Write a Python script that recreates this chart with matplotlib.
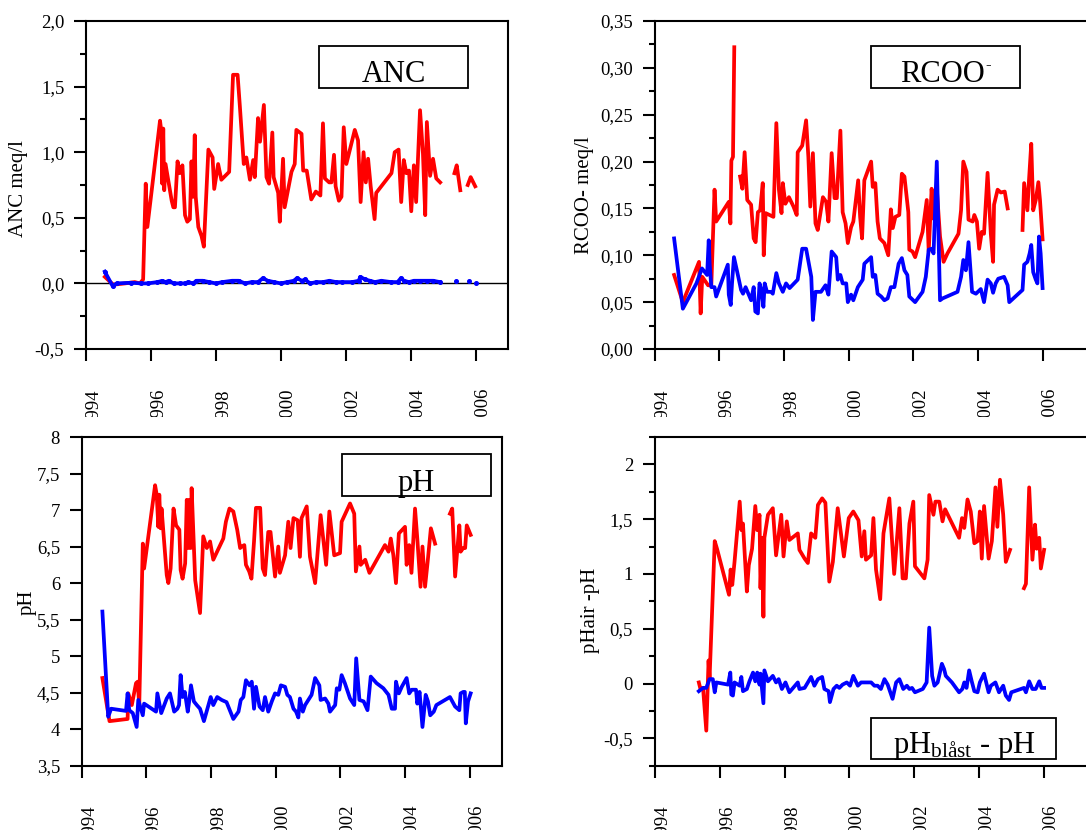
import numpy as np
import matplotlib
matplotlib.use('Agg')
import matplotlib.pyplot as plt
from matplotlib.ticker import MultipleLocator, FuncFormatter
from matplotlib.patches import Rectangle
from matplotlib.transforms import Bbox, TransformedBbox, blended_transform_factory, offset_copy

plt.rcParams['font.family'] = ['Liberation Serif', 'DejaVu Serif']
plt.rcParams['mathtext.fontset'] = 'custom'
plt.rcParams['mathtext.rm'] = 'Liberation Serif'
plt.rcParams['mathtext.it'] = 'Liberation Serif:italic'
plt.rcParams['mathtext.bf'] = 'Liberation Serif:bold'

nan = np.nan
RED = '#ff0000'
BLUE = '#0000ff'

# ---------------- data ----------------
years = [1994, 1996, 1998, 2000, 2002, 2004, 2006]

anc_red_t = [1994.58, 1994.84, 1995.20, 1995.50, 1995.66, 1995.76, 1995.84, 1995.89, 1996.28, 1996.33,
             1996.35, 1996.38, 1996.41, 1996.45, 1996.64, 1996.69, 1996.74, 1996.82, 1996.89, 1996.97,
             1997.05, 1997.12, 1997.20, 1997.25, 1997.30, 1997.35, 1997.38, 1997.46, 1997.56, 1997.63,
             1997.77, 1997.90, 1997.95, 1998.07, 1998.17, 1998.41, 1998.53, 1998.67, 1998.74, 1998.86,
             1998.94, 1999.05, 1999.15, 1999.20, 1999.30, 1999.36, 1999.48, 1999.56, 1999.64, 1999.74,
             1999.78, 1999.92, 1999.97, 2000.07, 2000.12, 2000.33, 2000.43, 2000.48, 2000.64, 2000.69,
             2000.80, 2000.94, 2001.08, 2001.22, 2001.30, 2001.36, 2001.49, 2001.56, 2001.64, 2001.69,
             2001.79, 2001.87, 2001.94, 2002.02, 2002.28, 2002.38, 2002.46, 2002.55, 2002.62, 2002.69,
             2002.77, 2002.89, 2002.94, 2003.41, 2003.51, 2003.63, 2003.71, 2003.79, 2003.87, 2003.95,
             2004.02, 2004.10, 2004.17, 2004.29, 2004.38, 2004.45, 2004.50, 2004.60, 2004.69, 2004.79,
             2004.91, 2005.10, 2005.35, 2005.42, 2005.53, 2005.65, 2005.76, 2005.85, 2005.99]
anc_red_v = [0.05, -0.01, 0.00, 0.01, 0.00, 0.03, 0.76, 0.43, 1.24, 1.14,
             0.76, 1.18, 0.71, 0.91, 0.63, 0.58, 0.58, 0.93, 0.84, 0.90,
             0.52, 0.47, 0.49, 0.93, 0.66, 1.13, 0.66, 0.43, 0.36, 0.28,
             1.02, 0.96, 0.72, 0.91, 0.79, 0.85, 1.59, 1.59, 1.35, 0.91,
             0.96, 0.79, 0.94, 0.81, 1.26, 1.08, 1.36, 0.81, 0.76, 1.15,
             0.81, 0.69, 0.47, 0.95, 0.58, 0.85, 0.91, 1.17, 1.14, 0.86,
             0.86, 0.64, 0.70, 0.67, 1.22, 0.80, 0.77, 0.77, 0.98, 0.74,
             0.63, 0.66, 1.19, 0.91, 1.17, 1.09, 0.62, 1.00, 0.77, 0.95,
             0.74, 0.49, 0.69, 0.84, 1.00, 1.02, 0.62, 0.94, 0.84, 0.86,
             0.55, 0.90, 0.62, 1.32, 0.99, 0.52, 1.23, 0.82, 0.95, 0.80,
             0.77, nan, 0.84, 0.90, 0.71, nan, 0.75, 0.81, 0.74]

anc_blue_t = [1994.58, 1994.82, 1994.95, 1995.40, 1995.70, 1995.90, 1996.20, 1996.35, 1996.45, 1996.55,
              1996.70, 1996.90, 1997.05, 1997.15, 1997.30, 1997.40, 1997.60, 1997.80, 1998.00, 1998.20,
              1998.50, 1998.70, 1998.90, 1999.10, 1999.30, 1999.45, 1999.60, 1999.80, 2000.00, 2000.20,
              2000.40, 2000.50, 2000.65, 2000.75, 2000.90, 2001.10, 2001.30, 2001.50, 2001.70, 2001.90,
              2002.20, 2002.40, 2002.45, 2002.60, 2002.75, 2002.90, 2003.10, 2003.40, 2003.60, 2003.70,
              2003.80, 2003.95, 2004.10, 2004.30, 2004.50, 2004.70, 2004.90, 2005.10, 2005.40, 2005.60,
              2005.80, 2005.90, 2006.00]
anc_blue_v = [0.09, -0.02, 0.00, 0.005, 0.00, 0.00, 0.01, 0.02, 0.01, 0.02,
              0.00, 0.00, 0.00, 0.01, 0.00, 0.02, 0.02, 0.01, 0.00, 0.01,
              0.02, 0.02, 0.00, 0.01, 0.01, 0.04, 0.02, 0.01, 0.00, 0.01,
              0.02, 0.04, 0.02, 0.03, 0.00, 0.01, 0.01, 0.02, 0.01, 0.01,
              0.01, 0.02, 0.05, 0.03, 0.02, 0.01, 0.02, 0.01, 0.01, 0.04,
              0.02, 0.01, 0.02, 0.02, 0.02, 0.02, 0.01, nan, 0.02, nan,
              0.02, nan, 0.005]

rcoo_red_t = [1994.60, 1994.87, 1995.37, 1995.42, 1995.47, 1995.65, 1995.75, 1995.85, 1995.90, 1996.29,
              1996.34, 1996.37, 1996.42, 1996.46, 1996.55, 1996.64, 1996.71, 1996.78, 1996.86, 1996.98,
              1997.06, 1997.12, 1997.19, 1997.26, 1997.34, 1997.37, 1997.43, 1997.55, 1997.67, 1997.76,
              1997.84, 1997.92, 1997.96, 1998.04, 1998.15, 1998.29, 1998.39, 1998.42, 1998.56, 1998.68,
              1998.75, 1998.81, 1998.89, 1998.97, 1999.04, 1999.20, 1999.30, 1999.37, 1999.47, 1999.56,
              1999.63, 1999.74, 1999.81, 1999.90, 1999.97, 2000.07, 2000.14, 2000.29, 2000.35, 2000.41,
              2000.48, 2000.69, 2000.74, 2000.82, 2000.89, 2000.96, 2001.10, 2001.22, 2001.30, 2001.36,
              2001.44, 2001.56, 2001.64, 2001.72, 2001.84, 2001.87, 2001.97, 2002.05, 2002.28, 2002.41,
              2002.47, 2002.56, 2002.62, 2002.72, 2002.82, 2002.93, 2003.05, 2003.39, 2003.47, 2003.54,
              2003.64, 2003.70, 2003.83, 2003.88, 2003.96, 2004.03, 2004.11, 2004.18, 2004.29, 2004.39,
              2004.46, 2004.49, 2004.60, 2004.70, 2004.82, 2004.91, 2005.10, 2005.37, 2005.42, 2005.52,
              2005.57, 2005.64, 2005.70, 2005.78, 2005.86, 2005.91, 2005.99]
rcoo_red_v = [0.079, 0.050, 0.093, 0.038, 0.077, 0.068, 0.068, 0.170, 0.136, 0.157,
              0.134, 0.201, 0.205, 0.322, nan, 0.184, 0.171, 0.210, 0.159, 0.154,
              0.118, 0.114, 0.146, 0.148, 0.177, 0.100, 0.145, 0.143, 0.141, 0.241,
              0.170, 0.145, 0.177, 0.155, 0.162, 0.152, 0.143, 0.210, 0.217, 0.244,
              0.205, 0.152, 0.209, 0.134, 0.127, 0.162, 0.157, 0.136, 0.209, 0.161,
              0.161, 0.233, 0.146, 0.134, 0.113, 0.130, 0.136, 0.180, 0.141, 0.118,
              0.180, 0.200, 0.173, 0.177, 0.136, 0.118, 0.113, 0.100, 0.149, 0.129,
              0.141, 0.143, 0.187, 0.184, 0.146, 0.106, 0.104, 0.098, 0.125, 0.159,
              0.104, 0.171, 0.139, 0.171, 0.120, 0.093, 0.102, 0.123, 0.148, 0.200,
              0.189, 0.138, 0.136, 0.143, 0.136, 0.107, 0.125, 0.123, 0.188, 0.123,
              0.093, 0.154, 0.170, 0.167, 0.168, 0.150, nan, 0.127, 0.177, 0.148,
              0.180, 0.219, 0.148, 0.159, 0.178, 0.159, 0.117]

rcoo_blue_t = [1994.60, 1994.87, 1995.29, 1995.46, 1995.62, 1995.67, 1995.70, 1995.75, 1995.85, 1995.90,
               1996.26, 1996.29, 1996.35, 1996.39, 1996.45, 1996.54, 1996.67, 1996.73, 1996.81, 1996.98,
               1997.06, 1997.11, 1997.19, 1997.24, 1997.31, 1997.36, 1997.40, 1997.47, 1997.60, 1997.65,
               1997.76, 1997.84, 1997.96, 1998.06, 1998.17, 1998.42, 1998.56, 1998.68, 1998.84, 1998.89,
               1998.97, 1999.14, 1999.28, 1999.37, 1999.47, 1999.61, 1999.66, 1999.74, 1999.81, 1999.92,
               1999.97, 2000.07, 2000.14, 2000.28, 2000.43, 2000.48, 2000.69, 2000.74, 2000.82, 2000.89,
               2001.00, 2001.10, 2001.20, 2001.30, 2001.41, 2001.54, 2001.64, 2001.72, 2001.81, 2001.87,
               2002.05, 2002.28, 2002.38, 2002.47, 2002.56, 2002.62, 2002.72, 2002.82, 2002.90, 2003.36,
               2003.47, 2003.54, 2003.62, 2003.70, 2003.81, 2003.93, 2004.08, 2004.18, 2004.29, 2004.39,
               2004.46, 2004.54, 2004.62, 2004.80, 2004.91, 2004.96, 2005.37, 2005.42, 2005.52, 2005.59,
               2005.64, 2005.70, 2005.78, 2005.83, 2005.88, 2005.93, 2005.99]
rcoo_blue_v = [0.118, 0.043, 0.070, 0.086, 0.079, 0.116, 0.090, 0.066, 0.066, 0.056,
               0.090, 0.058, 0.047, 0.070, 0.098, 0.084, 0.063, 0.059, 0.066, 0.052,
               0.066, 0.040, 0.038, 0.070, 0.061, 0.045, 0.070, 0.061, 0.061, 0.059,
               0.081, 0.070, 0.061, 0.070, 0.065, 0.074, 0.107, 0.107, 0.077, 0.031,
               0.061, 0.061, 0.068, 0.058, 0.104, 0.098, 0.074, 0.079, 0.070, 0.070,
               0.050, 0.058, 0.052, 0.066, 0.074, 0.091, 0.098, 0.077, 0.079, 0.059,
               0.056, 0.052, 0.054, 0.066, 0.066, 0.091, 0.097, 0.084, 0.079, 0.056,
               0.050, 0.061, 0.077, 0.106, 0.107, 0.102, 0.200, 0.052, 0.054, 0.061,
               0.077, 0.095, 0.084, 0.114, 0.061, 0.059, 0.064, 0.050, 0.074, 0.070,
               0.060, 0.070, 0.075, 0.077, 0.068, 0.050, 0.063, 0.090, 0.093, 0.102,
               0.111, 0.082, 0.074, 0.070, 0.120, 0.102, 0.065]

ph_red_t = [1994.64, 1994.86, 1995.42, 1995.44, 1995.55, 1995.68, 1995.73, 1995.78, 1995.89, 1995.93,
            1996.27, 1996.32, 1996.37, 1996.40, 1996.44, 1996.47, 1996.63, 1996.68, 1996.75, 1996.84,
            1996.92, 1997.02, 1997.06, 1997.12, 1997.20, 1997.25, 1997.30, 1997.33, 1997.37, 1997.40,
            1997.51, 1997.66, 1997.76, 1997.87, 1997.97, 1998.07, 1998.38, 1998.46, 1998.57, 1998.69,
            1998.81, 1998.90, 1998.95, 1999.03, 1999.08, 1999.18, 1999.25, 1999.33, 1999.39, 1999.52,
            1999.60, 1999.67, 1999.77, 1999.84, 1999.98, 2000.08, 2000.13, 2000.29, 2000.39, 2000.46,
            2000.55, 2000.68, 2000.75, 2000.80, 2000.96, 2001.06, 2001.22, 2001.39, 2001.56, 2001.66,
            2001.81, 2001.99, 2002.04, 2002.30, 2002.43, 2002.48, 2002.59, 2002.63, 2002.77, 2002.90,
            2003.38, 2003.49, 2003.56, 2003.64, 2003.72, 2003.81, 2004.00, 2004.05, 2004.13, 2004.20,
            2004.31, 2004.38, 2004.48, 2004.54, 2004.62, 2004.70, 2004.80, 2004.93, 2005.10, 2005.39,
            2005.46, 2005.55, 2005.68, 2005.72, 2005.80, 2005.86, 2005.91, 2006.03]
ph_red_v = [4.70, 4.11, 4.14, 4.49, 4.33, 4.63, 4.65, 4.33, 6.54, 6.20,
            7.34, 7.21, 6.77, 7.21, 6.75, 7.02, 6.11, 6.00, 6.20, 7.02,
            6.79, 6.73, 6.18, 6.06, 6.27, 7.14, 6.48, 7.14, 6.48, 7.30,
            6.04, 5.59, 6.64, 6.48, 6.57, 6.32, 6.61, 6.84, 7.02, 6.98,
            6.73, 6.48, 6.50, 6.52, 6.25, 6.16, 6.06, 6.57, 7.03, 7.03,
            6.20, 6.11, 6.70, 6.70, 6.09, 6.50, 6.14, 6.38, 6.84, 6.48,
            6.89, 6.86, 6.36, 6.89, 7.05, 6.36, 6.00, 6.93, 6.25, 6.98,
            6.38, 6.41, 6.84, 7.09, 6.95, 6.16, 6.50, 6.25, 6.32, 6.14,
            6.52, 6.43, 6.61, 6.38, 6.00, 6.68, 6.77, 6.25, 6.52, 6.14,
            7.02, 6.61, 5.95, 6.50, 5.95, 6.29, 6.75, 6.54, nan, 6.95,
            7.02, 6.09, 6.79, 6.43, 6.48, 6.48, 6.79, 6.66]

ph_blue_t = [1994.64, 1994.82, 1994.91, 1995.37, 1995.42, 1995.47, 1995.58, 1995.70, 1995.75, 1995.89,
             1995.93, 1996.30, 1996.34, 1996.46, 1996.63, 1996.73, 1996.86, 1996.96, 1997.01, 1997.06,
             1997.12, 1997.19, 1997.28, 1997.33, 1997.38, 1997.47, 1997.56, 1997.66, 1997.78, 1997.99,
             1998.07, 1998.19, 1998.33, 1998.48, 1998.69, 1998.85, 1998.92, 1999.00, 1999.08, 1999.19,
             1999.26, 1999.33, 1999.39, 1999.50, 1999.60, 1999.67, 1999.77, 1999.88, 1999.98, 2000.08,
             2000.16, 2000.29, 2000.36, 2000.44, 2000.55, 2000.63, 2000.70, 2000.75, 2000.84, 2000.91,
             2001.11, 2001.22, 2001.35, 2001.39, 2001.53, 2001.63, 2001.68, 2001.84, 2001.89, 2001.97,
             2002.04, 2002.14, 2002.30, 2002.43, 2002.49, 2002.59, 2002.72, 2002.84, 2002.94, 2003.12,
             2003.33, 2003.49, 2003.59, 2003.69, 2003.72, 2003.81, 2003.90, 2004.05, 2004.13, 2004.21,
             2004.34, 2004.38, 2004.45, 2004.54, 2004.64, 2004.71, 2004.78, 2004.89, 2004.97, 2005.39,
             2005.55, 2005.68, 2005.72, 2005.80, 2005.85, 2005.88, 2005.95, 2006.03]
ph_blue_v = [5.61, 4.17, 4.28, 4.25, 4.49, 4.26, 4.22, 4.03, 4.40, 4.19,
             4.35, 4.24, 4.49, 4.22, 4.42, 4.49, 4.24, 4.28, 4.33, 4.74,
             4.44, 4.51, 4.24, 4.40, 4.60, 4.38, 4.33, 4.28, 4.11, 4.44,
             4.33, 4.44, 4.40, 4.37, 4.14, 4.24, 4.40, 4.44, 4.67, 4.60,
             4.65, 4.28, 4.58, 4.31, 4.26, 4.44, 4.24, 4.38, 4.49, 4.47,
             4.60, 4.58, 4.47, 4.44, 4.28, 4.24, 4.16, 4.42, 4.24, 4.33,
             4.47, 4.70, 4.60, 4.40, 4.42, 4.35, 4.24, 4.33, 4.56, 4.54,
             4.74, 4.63, 4.42, 4.33, 4.97, 4.40, 4.38, 4.26, 4.72, 4.63,
             4.56, 4.47, 4.28, 4.28, 4.65, 4.49, 4.58, 4.70, 4.49, 4.54,
             4.54, 4.35, 4.51, 4.03, 4.47, 4.38, 4.19, 4.24, 4.33, 4.44,
             4.31, 4.26, 4.49, 4.51, 4.51, 4.08, 4.38, 4.49]

dph_red_t = [1995.36, 1995.41, 1995.49, 1995.59, 1995.66, 1995.69, 1995.85, 1995.92, 1996.29, 1996.34,
             1996.39, 1996.46, 1996.62, 1996.67, 1996.72, 1996.84, 1996.90, 1997.00, 1997.10, 1997.16,
             1997.23, 1997.26, 1997.31, 1997.35, 1997.38, 1997.49, 1997.64, 1997.74, 1997.90, 1997.97,
             1998.07, 1998.15, 1998.41, 1998.46, 1998.62, 1998.72, 1998.82, 1998.95, 1999.03, 1999.16,
             1999.26, 1999.38, 1999.49, 1999.64, 1999.83, 1999.98, 2000.12, 2000.28, 2000.38, 2000.46,
             2000.51, 2000.67, 2000.74, 2000.82, 2000.95, 2001.05, 2001.23, 2001.38, 2001.54, 2001.64,
             2001.74, 2001.85, 2001.97, 2002.02, 2002.31, 2002.41, 2002.46, 2002.59, 2002.65, 2002.77,
             2002.87, 2002.95, 2003.38, 2003.47, 2003.54, 2003.64, 2003.74, 2003.85, 2003.95, 2004.02,
             2004.08, 2004.15, 2004.29, 2004.39, 2004.50, 2004.56, 2004.64, 2004.74, 2004.82, 2004.95,
             2005.15, 2005.38, 2005.44, 2005.54, 2005.64, 2005.72, 2005.77, 2005.85, 2005.90, 2006.00]
dph_red_v = [0.01, -0.05, -0.04, -0.43, 0.21, 0.04, 1.30, 1.23, 0.81, 1.04,
             0.90, 1.11, 1.66, 1.40, 1.46, 0.84, 1.08, 1.23, 1.62, 1.40,
             1.54, 0.87, 1.33, 0.61, 1.33, 1.54, 1.60, 1.17, 1.54, 1.16,
             1.48, 1.31, 1.37, 1.22, 1.14, 1.10, 1.37, 1.33, 1.63, 1.69,
             1.65, 0.93, 1.11, 1.60, 1.16, 1.51, 1.57, 1.49, 1.16, 1.39,
             1.13, 1.17, 1.51, 1.04, 0.77, 1.37, 1.69, 1.00, 1.60, 0.96,
             0.96, 1.46, 1.66, 1.07, 0.96, 1.13, 1.72, 1.54, 1.66, 1.66,
             1.48, 1.59, 1.33, 1.51, 1.42, 1.68, 1.57, 1.28, 1.30, 1.57,
             1.14, 1.62, 1.14, 1.30, 1.79, 1.43, 1.86, 1.54, 1.11, 1.22,
             nan, 0.87, 0.91, 1.79, 1.13, 1.45, 1.23, 1.33, 1.05, 1.22]

dph_blue_t = [1995.36, 1995.49, 1995.59, 1995.69, 1995.79, 1995.85, 1995.90, 1996.26, 1996.33, 1996.36,
              1996.41, 1996.46, 1996.62, 1996.67, 1996.72, 1996.84, 1996.92, 1997.03, 1997.10, 1997.16,
              1997.23, 1997.26, 1997.35, 1997.38, 1997.49, 1997.64, 1997.74, 1997.82, 1997.92, 1998.03,
              1998.15, 1998.41, 1998.46, 1998.62, 1998.82, 1998.92, 1999.03, 1999.16, 1999.23, 1999.36,
              1999.40, 1999.51, 1999.61, 1999.69, 1999.79, 1999.92, 2000.02, 2000.12, 2000.26, 2000.36,
              2000.51, 2000.67, 2000.77, 2000.87, 2000.97, 2001.08, 2001.18, 2001.33, 2001.44, 2001.54,
              2001.66, 2001.77, 2001.85, 2001.93, 2002.02, 2002.26, 2002.38, 2002.46, 2002.55, 2002.62,
              2002.72, 2002.85, 2002.92, 2002.97, 2003.16, 2003.38, 2003.48, 2003.54, 2003.61, 2003.69,
              2003.77, 2003.85, 2003.95, 2004.02, 2004.15, 2004.29, 2004.36, 2004.50, 2004.61, 2004.74,
              2004.82, 2004.92, 2004.99, 2005.38, 2005.44, 2005.54, 2005.64, 2005.74, 2005.85, 2005.92,
              2006.00]
dph_blue_v = [-0.07, -0.04, -0.04, 0.04, 0.04, -0.08, 0.01, -0.01, 0.10, -0.10,
              -0.11, 0.01, -0.02, 0.06, -0.07, -0.05, 0.02, 0.10, 0.02, 0.10,
              -0.01, 0.09, -0.18, 0.12, 0.02, 0.07, 0.01, 0.04, -0.05, 0.01,
              -0.08, 0.01, -0.05, -0.04, 0.06, -0.02, 0.04, 0.06, -0.05, -0.07,
              -0.17, -0.05, -0.02, -0.04, -0.01, 0.01, -0.02, 0.07, -0.02, 0.01,
              0.01, 0.01, -0.02, -0.02, -0.05, 0.04, -0.01, -0.14, 0.01, 0.04,
              -0.05, -0.02, -0.05, -0.04, -0.08, -0.05, 0.01, 0.51, 0.07, -0.02,
              0.01, 0.18, 0.13, 0.07, 0.01, -0.08, -0.05, 0.01, -0.04, 0.12,
              0.02, -0.07, -0.08, 0.01, 0.09, -0.08, -0.02, 0.01, -0.08, -0.02,
              -0.11, -0.15, -0.08, -0.04, -0.08, 0.02, -0.05, -0.05, 0.02, -0.04,
              -0.04]

# ---------------- figure ----------------
W, H = 1086, 830
fig = plt.figure(figsize=(W / 100, H / 100), dpi=100)
fig.patch.set_facecolor('white')


def add_axes_px(left, top, right, bottom):
    return fig.add_axes([left / W, 1 - bottom / H, (right - left) / W, (bottom - top) / H])


def comma_fmt(fmt):
    def f(v, pos):
        if fmt == 'g':
            s = '%g' % round(v, 6)
        else:
            s = format(v, fmt)
        return s.replace('.', ',')
    return FuncFormatter(f)


def style(ax, x0, x1, y0, y1, yticks, fmt, minor=None):
    ax.set_xlim(x0, x1)
    ax.set_ylim(y0, y1)
    ax.set_xticks(years)
    ax.set_yticks(yticks)
    if minor:
        ax.yaxis.set_minor_locator(MultipleLocator(minor))
    ax.yaxis.set_major_formatter(comma_fmt(fmt))
    ax.tick_params(axis='x', which='both', direction='out', length=8.6, width=1.5, labelbottom=False)
    ax.tick_params(axis='y', which='major', direction='out', length=8.6, width=1.5, labelsize=13.5, pad=7)
    ax.tick_params(axis='y', which='minor', direction='out', length=4.3, width=1.5)
    for s in ax.spines.values():
        s.set_linewidth(1.5)
    ax.set_facecolor('white')


def xlabels(ax, clip_top_px):
    trans = blended_transform_factory(ax.transData, ax.transAxes)
    trans = offset_copy(trans, fig=fig, x=7, y=-39, units='dots')
    for yr in years:
        t = fig.text(yr, 0, str(yr), transform=trans, rotation=90, ha='center', va='top', fontsize=13.5)
        if clip_top_px is not None:
            t.set_clip_box(TransformedBbox(Bbox([[0, 1 - clip_top_px / H], [1, 1]]), fig.transFigure))
            t.set_clip_on(True)


def title_box(x0, y0, x1, y1):
    fig.add_artist(Rectangle((x0 / W, 1 - y1 / H), (x1 - x0) / W, (y1 - y0) / H,
                             transform=fig.transFigure, facecolor='white', edgecolor='black', lw=1.3))


LW = 2.7

# Panel 1 : ANC
ax1 = add_axes_px(86, 21, 508, 349)
style(ax1, 1994, 2007, -0.5, 2.0, [-0.5, 0, 0.5, 1.0, 1.5, 2.0], '.1f', minor=0.25)
ax1.axhline(0, color='black', lw=1.0, zorder=1)
ax1.plot(anc_blue_t, anc_blue_v, color=BLUE, lw=LW, marker='o', ms=2.6, zorder=3)
ax1.plot(anc_red_t, anc_red_v, color=RED, lw=LW, zorder=2)
xlabels(ax1, 417)
fig.text(19 / W, 1 - 189 / H, 'ANC meq/l', rotation=90, ha='center', va='center', fontsize=15)
title_box(319, 46, 468, 88)
fig.text(393.5 / W, 1 - 82 / H, 'ANC', ha='center', va='baseline', fontsize=22)

# Panel 2 : RCOO-
ax2 = add_axes_px(654.7, 21, 1100, 349)
style(ax2, 1994, 1994 + (1100 - 654.7) / 32.35, 0, 0.35,
      [0, 0.05, 0.10, 0.15, 0.20, 0.25, 0.30, 0.35], '.2f', minor=0.025)
ax2.plot(rcoo_blue_t, rcoo_blue_v, color=BLUE, lw=LW, zorder=3)
ax2.plot(rcoo_red_t, rcoo_red_v, color=RED, lw=LW, zorder=2)
xlabels(ax2, 417)
fig.text(585 / W, 1 - 195 / H, 'RCOO- meq/l', rotation=90, ha='center', va='center', fontsize=15)
title_box(871, 46, 1020, 88)
fig.text(942 / W, 1 - 82 / H, 'RCOO', ha='center', va='baseline', fontsize=22)
fig.text(985 / W, 1 - 69 / H, '-', ha='left', va='baseline', fontsize=12)

# Panel 3 : pH
ax3 = add_axes_px(81.7, 437, 502, 765.7)
style(ax3, 1994, 2007, 3.5, 8.0, [3.5, 4, 4.5, 5, 5.5, 6, 6.5, 7, 7.5, 8], 'g')
ax3.plot(ph_blue_t, ph_blue_v, color=BLUE, lw=LW, zorder=3)
ax3.plot(ph_red_t, ph_red_v, color=RED, lw=LW, zorder=2)
xlabels(ax3, None)
fig.text(27 / W, 1 - 602 / H, 'pH', rotation=90, ha='center', va='center', fontsize=15)
title_box(342, 454, 491, 496)
fig.text(416.5 / W, 1 - 491 / H, 'pH', ha='center', va='baseline', fontsize=22)

# Panel 4 : pH difference
ax4 = add_axes_px(654.7, 437, 1100, 765.7)
style(ax4, 1994, 1994 + (1100 - 654.7) / 32.45, -0.75, 2.25, [-0.5, 0, 0.5, 1, 1.5, 2], 'g', minor=0.25)
ax4.plot(dph_red_t, dph_red_v, color=RED, lw=LW, zorder=2)
ax4.plot(dph_blue_t, dph_blue_v, color=BLUE, lw=LW, zorder=3)
xlabels(ax4, None)
fig.text(591 / W, 1 - 610 / H, 'pHair -pH', rotation=90, ha='center', va='center', fontsize=15)
title_box(871, 718, 1056, 759)
fig.text(964 / W, 1 - 753 / H, r'pH$_{\mathrm{blåst}}$ - pH', ha='center', va='baseline', fontsize=22)

fig.savefig('out.png', dpi=100, facecolor='white')
